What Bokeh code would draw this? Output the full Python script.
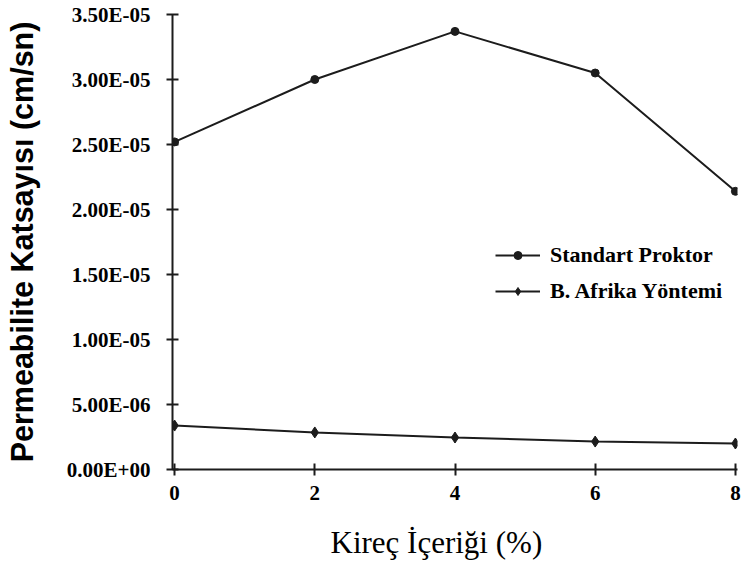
from bokeh.plotting import figure
from bokeh.models import Range1d, FixedTicker, CustomJSTickFormatter, Title
from bokeh.embed import file_html
from bokeh.resources import INLINE

# ---- data ----
kirec = [0, 2, 4, 6, 8]
standart_proktor = [2.52e-5, 3.00e-5, 3.37e-5, 3.05e-5, 2.14e-5]
b_afrika = [3.38e-6, 2.85e-6, 2.46e-6, 2.15e-6, 2.00e-6]
series_names = ["Standart Proktor", "B. Afrika Yöntemi"]
y_ticks = [0, 5e-6, 1e-5, 1.5e-5, 2e-5, 2.5e-5, 3e-5, 3.5e-5]
y_tick_labels = ["0.00E+00", "5.00E-06", "1.00E-05", "1.50E-05",
                 "2.00E-05", "2.50E-05", "3.00E-05", "3.50E-05"]
x_ticks = [0, 2, 4, 6, 8]
x_tick_labels = ["0", "2", "4", "6", "8"]
x_title = "Kireç İçeriği (%)"
y_title = "Permeabilite Katsayısı (cm/sn)"

LINE = "#1c1c1c"

p = figure(width=745, height=582, output_backend="svg", toolbar_location=None,
           x_range=Range1d(-0.03, 8.03), y_range=Range1d(0, 3.5e-5),
           min_border_left=172, min_border_right=8, min_border_top=14,
           min_border_bottom=113)
p.outline_line_color = None
p.grid.visible = False
p.background_fill_color = "white"
p.border_fill_color = "white"

# series
p.line(kirec, standart_proktor, line_color=LINE, line_width=2, legend_label=series_names[0])
p.scatter(kirec, standart_proktor, marker="circle", size=8, fill_color=LINE,
          line_color=LINE, legend_label=series_names[0])
p.line(kirec, b_afrika, line_color=LINE, line_width=2, legend_label=series_names[1])
p.scatter(kirec, b_afrika, marker="diamond", size=11, fill_color=LINE,
          line_color=LINE, legend_label=series_names[1])

# x axis
xa = p.xaxis[0]
xa.ticker = FixedTicker(ticks=x_ticks)
xa.major_label_overrides = {t: l for t, l in zip(x_ticks, x_tick_labels)}
xa.minor_tick_line_color = None
xa.major_tick_in = 6
xa.major_tick_out = 6
xa.axis_line_width = 2
xa.major_tick_line_width = 2
xa.axis_line_color = LINE
xa.major_tick_line_color = LINE
xa.major_label_text_font = "Liberation Serif"
xa.major_label_text_font_style = "bold"
xa.major_label_text_font_size = "21px"
xa.major_label_text_color = "black"
xa.major_label_standoff = 10

# x title (offset to sit left of centre, as in the reference)
p.add_layout(Title(text=x_title, align="left", offset=158, vertical_align="bottom",
                   standoff=40, text_font="Liberation Serif", text_font_style="normal",
                   text_font_size="31px", text_color="black"), "below")

# y axis
ya = p.yaxis[0]
ya.ticker = FixedTicker(ticks=y_ticks)
ya.formatter = CustomJSTickFormatter(args=dict(vals=y_ticks, labs=y_tick_labels), code="""
let best = 0;
for (let i = 0; i < vals.length; i++) {
  if (Math.abs(vals[i] - tick) < Math.abs(vals[best] - tick)) best = i;
}
return labs[best];
""")
ya.minor_tick_line_color = None
ya.major_tick_in = 6
ya.major_tick_out = 6
ya.axis_line_width = 2
ya.major_tick_line_width = 2
ya.axis_line_color = LINE
ya.major_tick_line_color = LINE
ya.major_label_text_font = "Liberation Serif"
ya.major_label_text_font_style = "bold"
ya.major_label_text_font_size = "21px"
ya.major_label_text_color = "black"
ya.major_label_standoff = 16
ya.axis_label = y_title
ya.axis_label_text_font = "Liberation Sans"
ya.axis_label_text_font_style = "bold"
ya.axis_label_text_font_size = "30.5px"
ya.axis_label_text_color = "black"
ya.axis_label_standoff = 25

# legend
lg = p.legend[0]
lg.location = (323, 165)
lg.background_fill_alpha = 0
lg.border_line_color = None
lg.padding = 0
lg.margin = 0
lg.spacing = 10
lg.glyph_width = 45
lg.glyph_height = 20
lg.label_height = 20
lg.label_standoff = 10
lg.label_text_font = "Liberation Serif"
lg.label_text_font_style = "bold"
lg.label_text_font_size = "22px"
lg.label_text_color = "black"

open("out.html", "w").write(file_html(p, INLINE))
